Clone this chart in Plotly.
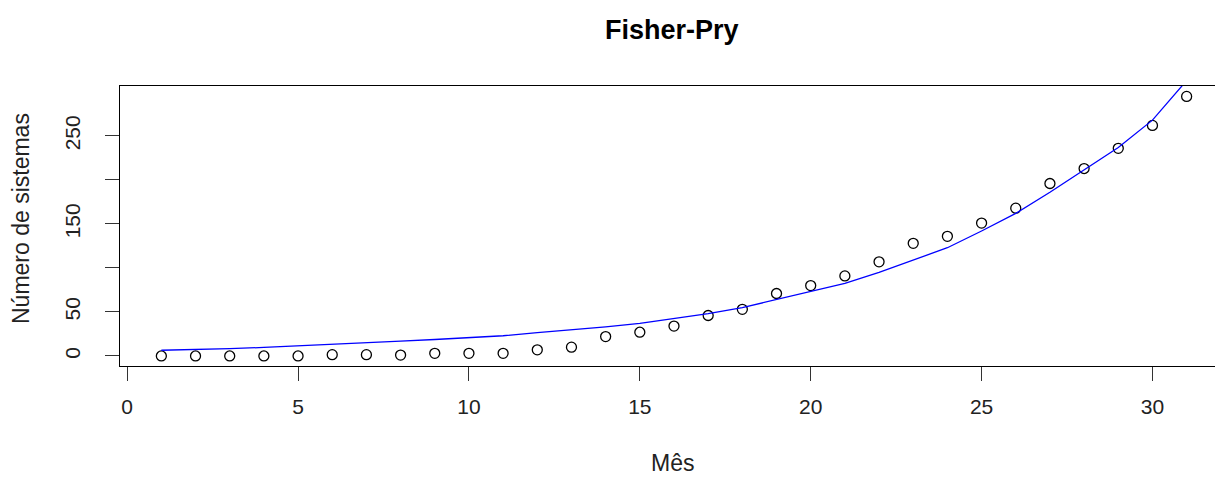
import plotly.graph_objects as go

# Data
mes = list(range(1, 32))
sistemas = [0, 0, 0, 0, 0, 1.5, 1.5, 1, 3, 3, 3, 7, 10, 22, 27, 34, 46, 53, 71, 80,
            91, 107, 128, 136, 151, 168, 196, 213, 236, 262, 295]
ajuste_fisher_pry = [6.5, 7.2, 8.3, 9.7, 11.3, 13.2, 15.0, 16.8, 18.7, 21.0, 23.0, 26.5,
                     29.7, 33, 37, 42.5, 48, 55, 64, 73, 82.5, 95, 109, 123, 142, 162,
                     186, 211, 237, 268, 313]
x_ticks = [0, 5, 10, 15, 20, 25, 30]
y_ticks = [0, 50, 100, 150, 200, 250]
y_ticktext = ["0", "50", "", "150", "", "250"]

W, H = 1215, 477
L, T, B, R = 120, 86, 111, 0
pw, ph = W - L - R, H - T - B

FONT = "Arial, Liberation Sans, sans-serif"

fig = go.Figure()
fig.add_trace(go.Scatter(
    x=mes, y=sistemas, mode="markers",
    marker=dict(symbol="circle-open", size=10, color="black", line=dict(width=1.3, color="black")),
    showlegend=False, cliponaxis=False,
))
fig.add_trace(go.Scatter(
    x=mes, y=ajuste_fisher_pry, mode="lines",
    line=dict(color="#0000FF", width=1.3),
    showlegend=False,
))

fig.update_layout(
    width=W, height=H,
    margin=dict(l=L, r=R, t=T, b=B, pad=0),
    paper_bgcolor="white", plot_bgcolor="white",
    font=dict(family=FONT, color="black"),
    xaxis=dict(
        range=[-0.21, 31.83], tickmode="array", tickvals=x_ticks,
        ticks="outside", ticklen=14, tickwidth=1, tickcolor="#333333",
        showline=True, linecolor="black", linewidth=1, mirror=True,
        showgrid=False, zeroline=False,
        tickfont=dict(family=FONT, size=21, color="#222222"),
        ticklabelstandoff=8,
    ),
    yaxis=dict(
        range=[-11.4, 306.8], tickmode="array", tickvals=y_ticks, ticktext=y_ticktext,
        ticks="outside", ticklen=14, tickwidth=1, tickcolor="#333333",
        showline=True, linecolor="black", linewidth=1, mirror=False,
        showgrid=False, zeroline=False, tickangle=-90,
        tickfont=dict(family=FONT, size=21, color="#222222"),
        ticklabelstandoff=17,
    ),
    annotations=[
        dict(text="<b>Fisher-Pry</b>", xref="paper", yref="paper",
             x=(672 - L) / pw, y=(H - B - 30) / ph, xanchor="center", yanchor="middle",
             showarrow=False, font=dict(family=FONT, size=27, color="black")),
        dict(text="Mês", xref="paper", yref="paper",
             x=(672 - L) / pw, y=(H - B - 463) / ph, xanchor="center", yanchor="middle",
             showarrow=False, font=dict(family=FONT, size=23, color="#222222")),
        dict(text="Número de sistemas", xref="paper", yref="paper", textangle=-90,
             x=(21 - L) / pw, y=(H - B - 219) / ph, xanchor="center", yanchor="middle",
             showarrow=False, font=dict(family=FONT, size=23, color="#222222")),
    ],
)

fig.write_html(
    "out.html",
    config={"displayModeBar": False},
    post_script="document.body.style.margin='0px';document.body.style.overflow='hidden';",
)
